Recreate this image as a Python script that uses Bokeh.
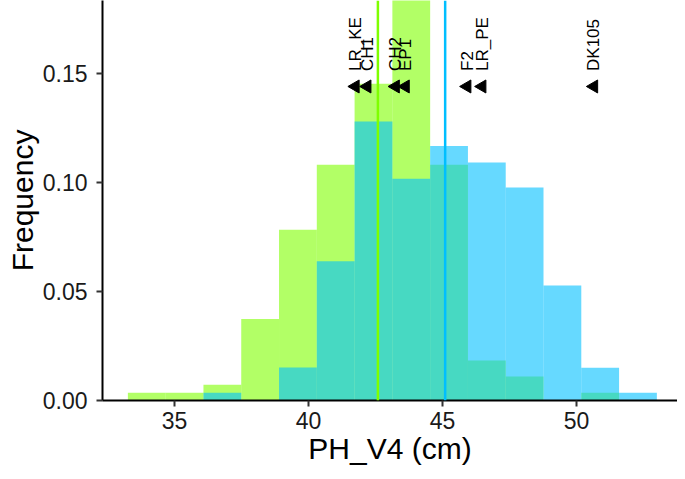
import numpy as np
from bokeh.plotting import figure
from bokeh.models import Range1d, FixedTicker, Span, ColumnDataSource
from bokeh.core.properties import value
from bokeh.embed import file_html
from bokeh.resources import INLINE

# ---- data ----
bin_edges = [33.26, 34.67, 36.08, 37.49, 38.90, 40.31, 41.72, 43.13,
             44.54, 45.95, 47.36, 48.77, 50.18, 51.59, 53.00]
green_freq = [0.0035, 0.0035, 0.0072, 0.0373, 0.0782, 0.1080, 0.1451,
              0.1860, 0.1080, 0.0183, 0.0110, 0.0, 0.0035, 0.0]
blue_freq = [0.0, 0.0, 0.0035, 0.0, 0.0151, 0.0638, 0.1279,
             0.1016, 0.1166, 0.1091, 0.0976, 0.0527, 0.0150, 0.0035]
green_mean = 42.59
blue_mean = 45.10

marker_names = ["LR_KE", "CH1", "CH2", "EP1", "F2", "LR_PE", "DK105"]
marker_x = [41.75, 42.19, 43.25, 43.62, 45.92, 46.48, 50.65]
marker_y = 0.1439
label_y = 0.1510

x_ticks = [35, 40, 45, 50]
y_ticks = [0.0, 0.05, 0.10, 0.15]
y_tick_labels = ["0.00", "0.05", "0.10", "0.15"]
x_title = "PH_V4 (cm)"
y_title = "Frequency"

FONT = "Liberation Sans"

p = figure(width=677, height=471, output_backend="svg", toolbar_location=None,
           x_range=Range1d(32.313, 53.77), y_range=Range1d(0, 0.1833),
           min_border_left=102, min_border_right=0, min_border_top=0,
           min_border_bottom=71)
p.outline_line_color = None
p.xgrid.visible = False
p.ygrid.visible = False
p.background_fill_color = "white"
p.border_fill_color = "white"

left = bin_edges[:-1]
right = bin_edges[1:]
p.quad(left=left, right=right, bottom=0, top=green_freq,
       fill_color="#7FFF00", fill_alpha=0.6, line_color=None)
p.quad(left=left, right=right, bottom=0, top=blue_freq,
       fill_color="#00BFFF", fill_alpha=0.6, line_color=None)

p.add_layout(Span(location=green_mean, dimension="height",
                  line_color="#7FFF00", line_width=2.5))
p.add_layout(Span(location=blue_mean, dimension="height",
                  line_color="#00BFFF", line_width=2.5))

src = ColumnDataSource(dict(x=marker_x, y=[marker_y] * len(marker_x),
                            ly=[label_y] * len(marker_x), name=marker_names))
p.scatter(x="x", y="y", source=src, marker="triangle", angle=np.pi / 2,
          size=13, fill_color="black", line_color="black")
p.text(x="x", y="ly", text="name", source=src, angle=np.pi / 2,
       text_align="left", text_baseline="middle",
       text_font=value(FONT), text_font_size="17px", text_color="black")

for ax in (p.xaxis[0], p.yaxis[0]):
    ax.axis_line_color = "black"
    ax.axis_line_width = 2
    ax.major_tick_line_color = "#333333"
    ax.major_tick_line_width = 2
    ax.major_tick_out = 6
    ax.major_tick_in = 0
    ax.minor_tick_line_color = None
    ax.major_label_text_font = FONT
    ax.major_label_text_font_size = "23px"
    ax.major_label_text_color = "#1a1a1a"
    ax.axis_label_text_font = FONT
    ax.axis_label_text_font_size = "30px"
    ax.axis_label_text_font_style = "normal"
    ax.axis_label_text_color = "black"

p.xaxis.ticker = FixedTicker(ticks=x_ticks)
p.yaxis.ticker = FixedTicker(ticks=y_ticks)
p.yaxis.major_label_overrides = {t: l for t, l in zip(y_ticks, y_tick_labels)}
p.xaxis.axis_label = x_title
p.yaxis.axis_label = y_title
p.xaxis.major_label_standoff = 5
p.xaxis.axis_label_standoff = 0
p.yaxis.major_label_standoff = 9
p.yaxis.axis_label_standoff = 1

open("out.html", "w").write(file_html(p, INLINE))
